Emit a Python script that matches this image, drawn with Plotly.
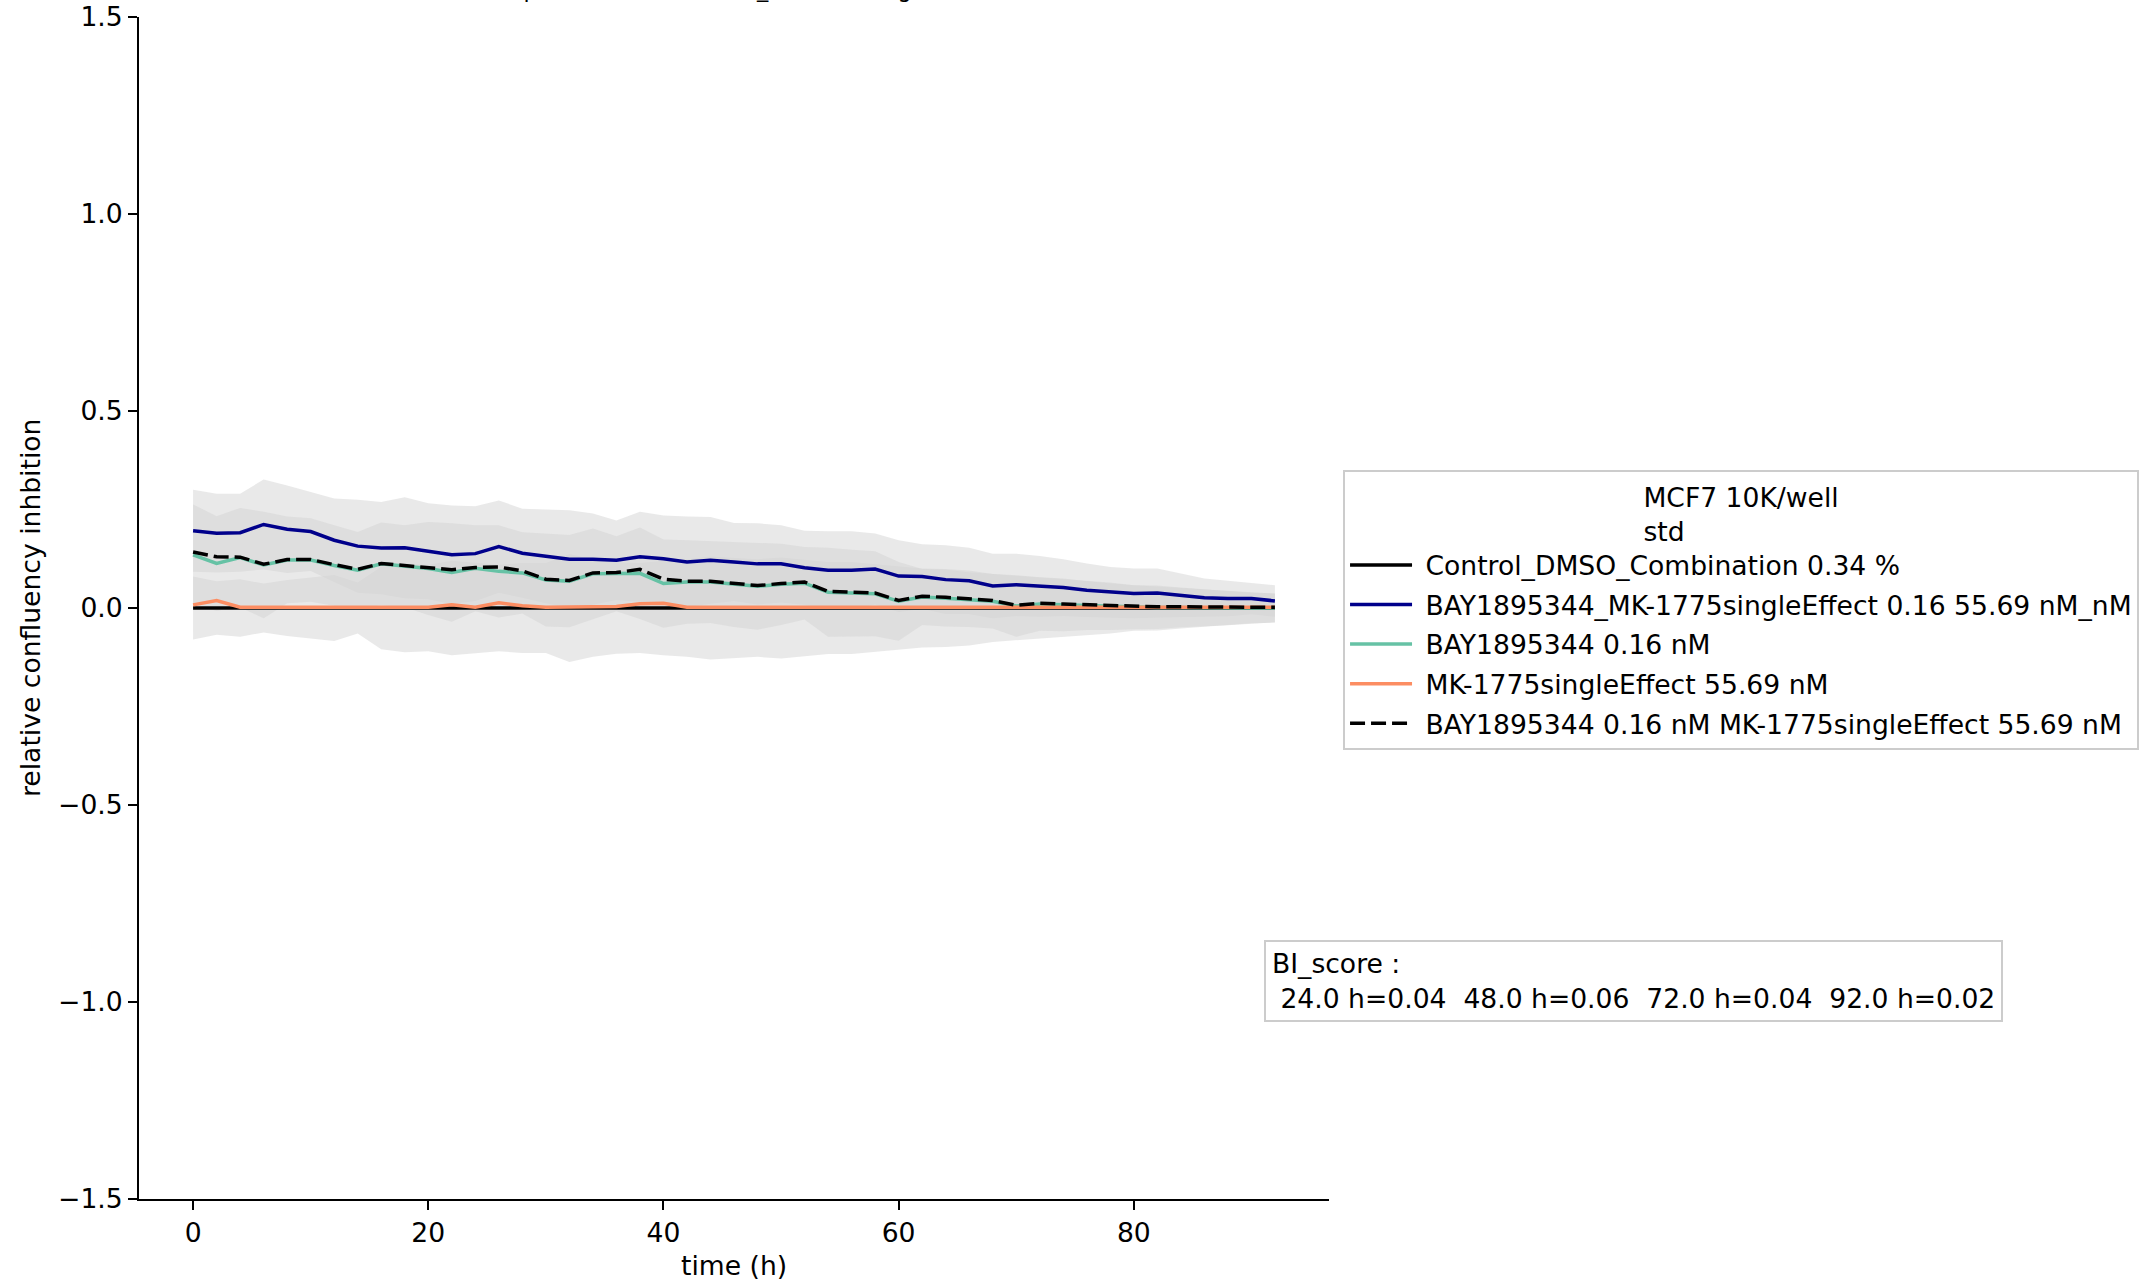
import plotly.graph_objects as go

# ---------------- data ----------------
time_h = [0, 2, 4, 6, 8, 10, 12, 14, 16, 18, 20, 22, 24, 26, 28, 30, 32, 34, 36, 38,
          40, 42, 44, 46, 48, 50, 52, 54, 56, 58, 60, 62, 64, 66, 68, 70, 72, 74, 76, 78,
          80, 82, 84, 86, 88, 90, 92]

control_mean = [0.0, 0.0, 0.0, 0.0, 0.0, 0.0, 0.0, 0.0, 0.0, 0.0, 0.0, 0.0, 0.0, 0.0, 0.0, 0.0,
                0.0, 0.0, 0.0, 0.0, 0.0, 0.0, 0.0, 0.0, 0.0, 0.0, 0.0, 0.0, 0.0, 0.0, 0.0, 0.0,
                0.0, 0.0, 0.0, 0.0, 0.0, 0.0, 0.0, 0.0, 0.0, 0.0, 0.0, 0.0, 0.0, 0.0, 0.0]
control_std = [0.080, 0.068, 0.073, 0.062, 0.071, 0.078, 0.084, 0.065, 0.105, 0.112, 0.110, 0.120,
               0.115, 0.110, 0.114, 0.114, 0.137, 0.124, 0.116, 0.114, 0.120, 0.124, 0.131, 0.128,
               0.124, 0.128, 0.122, 0.117, 0.117, 0.111, 0.105, 0.100, 0.099, 0.095, 0.086, 0.082,
               0.078, 0.073, 0.069, 0.065, 0.058, 0.057, 0.052, 0.048, 0.044, 0.039, 0.037]

combo_mean = [0.196, 0.190, 0.191, 0.212, 0.200, 0.194, 0.172, 0.157, 0.152, 0.153, 0.144, 0.135,
              0.138, 0.156, 0.139, 0.131, 0.124, 0.124, 0.121, 0.130, 0.125, 0.117, 0.121, 0.117,
              0.112, 0.112, 0.102, 0.096, 0.096, 0.099, 0.081, 0.080, 0.072, 0.069, 0.056, 0.059,
              0.055, 0.052, 0.045, 0.040, 0.037, 0.038, 0.032, 0.026, 0.024, 0.024, 0.018]
combo_std = [0.104, 0.100, 0.099, 0.114, 0.111, 0.100, 0.106, 0.118, 0.117, 0.128, 0.122, 0.125,
             0.120, 0.117, 0.113, 0.119, 0.124, 0.116, 0.101, 0.114, 0.110, 0.115, 0.110, 0.099,
             0.103, 0.098, 0.094, 0.099, 0.099, 0.090, 0.091, 0.082, 0.087, 0.084, 0.082, 0.079,
             0.077, 0.072, 0.068, 0.064, 0.063, 0.062, 0.055, 0.049, 0.045, 0.040, 0.040]

bay_mean = [0.135, 0.113, 0.128, 0.109, 0.122, 0.122, 0.108, 0.096, 0.112, 0.106, 0.100, 0.090,
            0.101, 0.093, 0.089, 0.071, 0.068, 0.087, 0.087, 0.088, 0.062, 0.066, 0.066, 0.060,
            0.055, 0.060, 0.063, 0.040, 0.038, 0.036, 0.017, 0.028, 0.025, 0.021, 0.017, 0.005,
            0.010, 0.008, 0.006, 0.003, 0.002, 0.001, 0.001, 0.000, 0.000, 0.000, 0.000]
bay_std = [0.128, 0.120, 0.126, 0.135, 0.110, 0.106, 0.102, 0.097, 0.105, 0.104, 0.118, 0.125,
           0.109, 0.117, 0.103, 0.118, 0.117, 0.115, 0.095, 0.116, 0.112, 0.106, 0.104, 0.108,
           0.110, 0.103, 0.092, 0.113, 0.110, 0.108, 0.100, 0.071, 0.072, 0.069, 0.069, 0.078,
           0.068, 0.067, 0.062, 0.059, 0.056, 0.054, 0.050, 0.047, 0.044, 0.040, 0.036]

mk_mean = [0.008, 0.019, 0.002, 0.002, 0.002, 0.002, 0.002, 0.002, 0.002, 0.002, 0.002, 0.008,
           0.002, 0.013, 0.006, 0.002, 0.002, 0.002, 0.004, 0.011, 0.012, 0.002, 0.002, 0.002,
           0.002, 0.002, 0.004, 0.002, 0.002, 0.002, 0.002, 0.002, 0.002, 0.002, 0.002, 0.002,
           0.002, 0.002, 0.002, 0.002, 0.002, 0.002, 0.002, 0.002, 0.002, 0.002, 0.002]

expected_mean = [0.142, 0.130, 0.129, 0.111, 0.123, 0.123, 0.110, 0.098, 0.113, 0.108, 0.102, 0.097,
                 0.103, 0.104, 0.094, 0.073, 0.070, 0.089, 0.090, 0.098, 0.073, 0.068, 0.068, 0.062,
                 0.057, 0.062, 0.066, 0.042, 0.040, 0.038, 0.019, 0.030, 0.027, 0.023, 0.019, 0.007,
                 0.012, 0.010, 0.008, 0.005, 0.004, 0.003, 0.003, 0.002, 0.002, 0.002, 0.002]

series_names = [
    "Control_DMSO_Combination 0.34 %",
    "BAY1895344_MK-1775singleEffect 0.16 55.69 nM_nM",
    "BAY1895344 0.16 nM",
    "MK-1775singleEffect 55.69 nM",
    "BAY1895344 0.16 nM MK-1775singleEffect 55.69 nM",
]
series_colors = ["#000000", "#00008b", "#66c2a5", "#fc8d62", "#000000"]

legend_title = "MCF7 10K/well<br>std"
title_text = "Comparison BAY1895344_MK-1775singleEffect"
bi_score_text = ("BI_score :<br>\u00a024.0 h=0.04\u00a0\u00a048.0 h=0.06\u00a0\u00a0"
                 "72.0 h=0.04\u00a0\u00a092.0 h=0.02")

y_ticks = [-1.5, -1.0, -0.5, 0.0, 0.5, 1.0, 1.5]
x_ticks = [0, 20, 40, 60, 80]

# ---------------- figure ----------------
FONT = "DejaVu Sans"
FS = 26.6
band_fill = "rgba(211,211,211,0.5)"

fig = go.Figure()

# std bands
for mean, std in [(control_mean, control_std), (combo_mean, combo_std), (bay_mean, bay_std)]:
    lower = [m - s for m, s in zip(mean, std)]
    upper = [m + s for m, s in zip(mean, std)]
    fig.add_trace(go.Scatter(x=time_h, y=lower, mode="lines", line=dict(width=0),
                             showlegend=False, hoverinfo="skip"))
    fig.add_trace(go.Scatter(x=time_h, y=upper, mode="lines", line=dict(width=0),
                             fill="tonexty", fillcolor=band_fill,
                             showlegend=False, hoverinfo="skip"))

means = [control_mean, combo_mean, bay_mean, mk_mean, expected_mean]
for i, (name, col, mean) in enumerate(zip(series_names, series_colors, means)):
    dash = "15px,6px" if i == 4 else "solid"
    fig.add_trace(go.Scatter(x=time_h, y=mean, mode="lines", name="\u00a0" + name,
                             legendgroup=f"g{i}",
                             line=dict(color=col, width=3.5, dash=dash)))

L, R, T, B = 139, 820, 17, 82
W, H = 2149, 1281
plot_h = H - T - B

fig.update_layout(
    width=W, height=H,
    margin=dict(l=L, r=R, t=T, b=B, autoexpand=False),
    paper_bgcolor="white", plot_bgcolor="white",
    font=dict(family=FONT, size=FS, color="black"),
    showlegend=True,
    legend=dict(
        x=1.0118, xanchor="left", y=(1199 - 470) / plot_h, yanchor="top",
        bgcolor="white", bordercolor="#cccccc", borderwidth=2,
        font=dict(family=FONT, size=FS, color="black"),
        title=dict(text=legend_title, side="top center",
                   font=dict(family=FONT, size=FS, color="black")),
        tracegroupgap=2, itemwidth=62,
    ),
    xaxis=dict(
        range=[-4.6, 96.6], tickvals=x_ticks, ticktext=[str(v) for v in x_ticks],
        showgrid=False, zeroline=False, showline=True, linecolor="black", linewidth=2,
        ticks="outside", ticklen=9, tickwidth=2, tickcolor="black",
        tickfont=dict(family=FONT, size=FS, color="black"),
    ),
    yaxis=dict(
        range=[-1.5, 1.5], tickvals=y_ticks,
        ticktext=[("\u2212" if v < 0 else "") + f"{abs(v):.1f}" for v in y_ticks],
        showgrid=False, zeroline=False, showline=True, linecolor="black", linewidth=2,
        ticks="outside", ticklen=9, tickwidth=2, tickcolor="black",
        tickfont=dict(family=FONT, size=FS, color="black"),
    ),
    annotations=[
        dict(text="time (h)", xref="paper", yref="paper", x=0.5, y=-(1265 - 1199) / plot_h,
             xanchor="center", yanchor="middle", showarrow=False,
             font=dict(family=FONT, size=FS, color="black")),
        dict(text="relative confluency inhbition", xref="paper", yref="paper",
             x=-(L - 30) / (W - L - R), y=0.5, xanchor="center", yanchor="middle",
             textangle=-90, showarrow=False,
             font=dict(family=FONT, size=FS, color="black")),
        dict(text=title_text, xref="paper", yref="paper", x=0.5,
             y=(1199 + 11.0) / plot_h, xanchor="center", yanchor="middle", showarrow=False,
             font=dict(family=FONT, size=22.5, color="black")),
        dict(text=bi_score_text, xref="paper", yref="paper",
             x=(1264 - L) / (W - L - R), y=(1199 - 940) / plot_h,
             xanchor="left", yanchor="top", align="left", showarrow=False,
             bgcolor="white", bordercolor="#cccccc", borderwidth=2, borderpad=6,
             font=dict(family=FONT, size=FS, color="black")),
    ],
)

fig.write_html("out.html", config={"displayModeBar": False},
               post_script="document.body.style.margin='0';")
